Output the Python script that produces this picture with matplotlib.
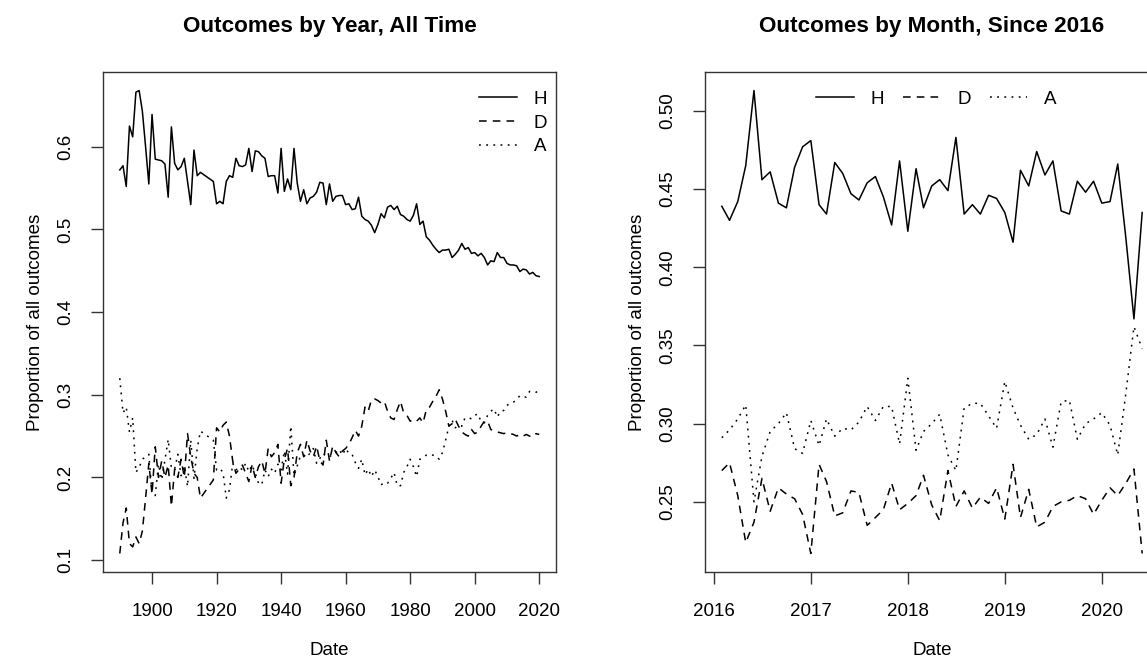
import pandas as pd
import matplotlib
matplotlib.use("Agg")
import matplotlib.pyplot as plt
import matplotlib.dates as mdates

plt.rcParams['font.family'] = ['Liberation Sans', 'DejaVu Sans']

# yearly proportions (no league play 1916-1918)
years = list(range(1890, 1916)) + list(range(1919, 2021))
home_year = [0.572, 0.577, 0.552, 0.625, 0.612, 0.666, 0.668, 0.643, 0.600, 0.555,
             0.639, 0.585, 0.584, 0.583, 0.579, 0.539, 0.624, 0.580, 0.572, 0.576,
             0.586, 0.558, 0.530, 0.596, 0.565, 0.569,
             0.558, 0.531, 0.534, 0.531, 0.558, 0.565, 0.563, 0.586, 0.577, 0.576, 0.578,
             0.598, 0.570, 0.595, 0.594, 0.589, 0.586, 0.564, 0.565, 0.565, 0.544,
             0.598, 0.546, 0.561, 0.548, 0.598, 0.556, 0.534, 0.548, 0.531, 0.538,
             0.540, 0.545, 0.557, 0.556, 0.530, 0.555, 0.534, 0.540, 0.541, 0.541,
             0.530, 0.531, 0.524, 0.525, 0.539, 0.516, 0.512, 0.510, 0.505, 0.496,
             0.506, 0.519, 0.514, 0.527, 0.529, 0.524, 0.528, 0.518, 0.516, 0.512,
             0.510, 0.517, 0.531, 0.506, 0.510, 0.491, 0.487, 0.481, 0.476, 0.472,
             0.475, 0.475, 0.476, 0.466, 0.470, 0.475, 0.483, 0.476, 0.478, 0.471,
             0.472, 0.468, 0.471, 0.466, 0.457, 0.462, 0.461, 0.472, 0.466, 0.466,
             0.459, 0.457, 0.457, 0.456, 0.449, 0.452, 0.451, 0.446, 0.448, 0.444,
             0.443]
draw_year = [0.108, 0.145, 0.163, 0.120, 0.116, 0.128, 0.120, 0.135, 0.175, 0.217,
             0.180, 0.237, 0.200, 0.220, 0.200, 0.215, 0.165, 0.210, 0.200, 0.222,
             0.200, 0.253, 0.225, 0.205, 0.200, 0.175,
             0.197, 0.260, 0.255, 0.263, 0.267, 0.250, 0.220, 0.205, 0.210, 0.215, 0.205,
             0.195, 0.215, 0.200, 0.213, 0.220, 0.205, 0.235, 0.225, 0.230, 0.240,
             0.193, 0.222, 0.235, 0.190, 0.200, 0.230, 0.240, 0.225, 0.245, 0.232,
             0.225, 0.238, 0.220, 0.215, 0.245, 0.220, 0.238, 0.230, 0.225, 0.232,
             0.235, 0.240, 0.248, 0.257, 0.250, 0.262, 0.285, 0.280, 0.294, 0.295,
             0.293, 0.290, 0.292, 0.280, 0.272, 0.270, 0.282, 0.292, 0.278, 0.275,
             0.268, 0.270, 0.268, 0.272, 0.266, 0.282, 0.285, 0.292, 0.298, 0.306,
             0.295, 0.280, 0.262, 0.265, 0.270, 0.262, 0.255, 0.252, 0.250, 0.258,
             0.253, 0.255, 0.262, 0.268, 0.268, 0.258, 0.256, 0.255, 0.254, 0.253,
             0.254, 0.253, 0.252, 0.250, 0.252, 0.250, 0.252, 0.250, 0.249, 0.253,
             0.252]
away_year = [0.320, 0.278, 0.285, 0.255, 0.272, 0.206, 0.212, 0.222, 0.225, 0.228,
             0.181, 0.178, 0.216, 0.197, 0.221, 0.246, 0.211, 0.210, 0.228, 0.202,
             0.214, 0.189, 0.245, 0.199, 0.235, 0.256,
             0.245, 0.209, 0.211, 0.206, 0.175, 0.185, 0.217, 0.209, 0.213, 0.209, 0.217,
             0.207, 0.215, 0.205, 0.193, 0.191, 0.209, 0.201, 0.210, 0.205, 0.216,
             0.209, 0.232, 0.204, 0.262, 0.202, 0.214, 0.226, 0.227, 0.224, 0.230,
             0.235, 0.217, 0.223, 0.229, 0.225, 0.225, 0.228, 0.230, 0.234, 0.227,
             0.235, 0.229, 0.228, 0.218, 0.211, 0.222, 0.203, 0.210, 0.201, 0.209,
             0.201, 0.191, 0.194, 0.193, 0.199, 0.206, 0.190, 0.190, 0.206, 0.213,
             0.222, 0.213, 0.201, 0.222, 0.224, 0.227, 0.228, 0.227, 0.226, 0.222,
             0.230, 0.245, 0.262, 0.269, 0.260, 0.263, 0.262, 0.272, 0.272, 0.271,
             0.275, 0.277, 0.267, 0.266, 0.275, 0.280, 0.283, 0.273, 0.280, 0.281,
             0.287, 0.290, 0.291, 0.294, 0.299, 0.298, 0.297, 0.304, 0.303, 0.303,
             0.305]

# monthly proportions, Feb 2016 - Jun 2020
months = pd.date_range("2016-02-01", "2020-06-01", freq="MS")
home_month = [0.439, 0.430, 0.442, 0.465, 0.513, 0.456, 0.461, 0.441, 0.438, 0.464,
              0.477, 0.481, 0.440, 0.434, 0.467, 0.460, 0.447, 0.443, 0.454, 0.458,
              0.445, 0.427, 0.468, 0.423, 0.463, 0.438, 0.452, 0.456, 0.449, 0.483,
              0.434, 0.440, 0.434, 0.446, 0.444, 0.435, 0.416, 0.462, 0.452, 0.474,
              0.459, 0.468, 0.436, 0.434, 0.455, 0.448, 0.455, 0.441, 0.442, 0.466,
              0.418, 0.367, 0.435]
draw_month = [0.270, 0.275, 0.254, 0.224, 0.237, 0.265, 0.244, 0.259, 0.255, 0.252,
              0.242, 0.217, 0.274, 0.263, 0.241, 0.243, 0.257, 0.256, 0.235, 0.240,
              0.245, 0.262, 0.245, 0.249, 0.254, 0.267, 0.248, 0.238, 0.270, 0.247,
              0.257, 0.246, 0.253, 0.249, 0.259, 0.239, 0.274, 0.240, 0.258, 0.234,
              0.237, 0.247, 0.250, 0.251, 0.254, 0.252, 0.242, 0.251, 0.259, 0.254,
              0.262, 0.271, 0.217]
away_month = [0.291, 0.296, 0.303, 0.312, 0.250, 0.279, 0.295, 0.300, 0.307, 0.284,
              0.281, 0.302, 0.286, 0.303, 0.292, 0.297, 0.296, 0.301, 0.311, 0.302,
              0.311, 0.311, 0.287, 0.329, 0.283, 0.295, 0.300, 0.306, 0.280, 0.270,
              0.310, 0.313, 0.313, 0.305, 0.297, 0.327, 0.310, 0.299, 0.290, 0.293,
              0.303, 0.285, 0.314, 0.315, 0.290, 0.300, 0.303, 0.307, 0.299, 0.280,
              0.320, 0.362, 0.348]

labels = ["H", "D", "A"]
styles = ["-", (0, (5, 4)), (0, (1.2, 3.5))]

fs = 13.5
fig = plt.figure(figsize=(11.47, 6.68), dpi=100)
ax1 = fig.add_axes([103 / 1147, 96 / 668, 453 / 1147, 500 / 668])
ax2 = fig.add_axes([705 / 1147, 96 / 668, 454 / 1147, 500 / 668])

for series, ls, lab in zip([home_year, draw_year, away_year], styles, labels):
    ax1.plot(years, series, color="black", lw=1.1, linestyle=ls, label=lab)
for series, ls, lab in zip([home_month, draw_month, away_month], styles, labels):
    ax2.plot(months, series, color="black", lw=1.1, linestyle=ls, label=lab)

ax1.set_xticks([1900, 1920, 1940, 1960, 1980, 2000, 2020])
ax1.set_yticks([0.1, 0.2, 0.3, 0.4, 0.5, 0.6])
ax1.set_yticklabels(["0.1", "0.2", "0.3", "0.4", "0.5", "0.6"])
ax2.xaxis.set_major_locator(mdates.YearLocator())
ax2.xaxis.set_major_formatter(mdates.DateFormatter("%Y"))
ax2.set_yticks([0.25, 0.30, 0.35, 0.40, 0.45, 0.50])
ax2.set_yticklabels(["0.25", "0.30", "0.35", "0.40", "0.45", "0.50"])

for ax, title in [(ax1, "Outcomes by Year, All Time"), (ax2, "Outcomes by Month, Since 2016")]:
    ax.margins(0.04)
    for sp in ax.spines.values():
        sp.set_linewidth(1.0)
        sp.set_color("#333333")
    ax.tick_params(direction="out", length=8.5, width=1.0, labelsize=fs, color="#333333")
    ax.tick_params(axis="x", pad=14)
    ax.tick_params(axis="y", pad=12)
    for t in ax.get_yticklabels():
        t.set_rotation(90)
        t.set_va("center")
    ax.set_title(title, fontsize=fs * 1.2, fontweight="bold", pad=29)
    ax.set_xlabel("Date", fontsize=fs, labelpad=16)
    ax.set_ylabel("Proportion of all outcomes", fontsize=fs, labelpad=10)

ax1.legend(loc="upper right", frameon=False, fontsize=fs, handlelength=2.0,
           handletextpad=0.9, labelspacing=0.35, borderaxespad=0.6,
           bbox_to_anchor=(1.022, 1.0))
ax2.legend(loc="upper center", frameon=False, fontsize=fs, ncol=3, handlelength=2.0,
           handletextpad=0.9, columnspacing=1.0, borderaxespad=0.6,
           bbox_to_anchor=(0.51, 1.0))

fig.savefig("out.png", dpi=100)
